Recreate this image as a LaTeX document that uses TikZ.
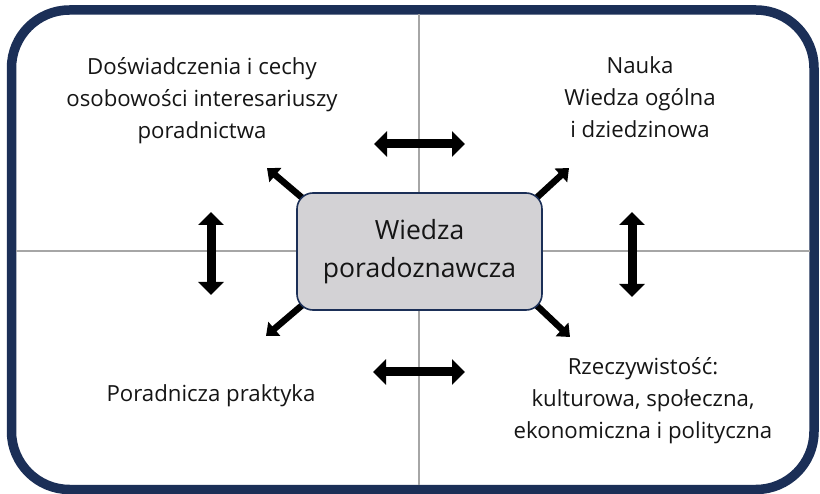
\documentclass[tikz,border=0pt]{standalone}
\usepackage{fontspec}
\setmainfont{Open Sans}
\usetikzlibrary{arrows.meta}
\definecolor{navy}{HTML}{1B2F57}
\definecolor{boxgray}{HTML}{D3D2D5}
\definecolor{gridgray}{HTML}{A6A6A6}
\definecolor{txt}{HTML}{151515}
\begin{document}
\begin{tikzpicture}[x=1pt,y=-1pt,
 frame/.style={draw=navy, line width=9.5pt, rounded corners=58pt},
 gridline/.style={draw=gridgray, line width=1.4pt},
 label/.style={align=center, text=txt, font=\fontsize{22.2}{32}\selectfont, inner sep=0pt},
 centerbox/.style={draw=navy, line width=1.6pt, fill=boxgray, rounded corners=16pt, minimum width=245pt, minimum height=117pt, align=center, font=\fontsize{26.5}{38}\selectfont, text=txt},
 dbl/.style={line width=9pt, {Triangle[length=13pt,width=25pt]}-{Triangle[length=13pt,width=25pt]}},
 ray/.style={line width=6.5pt, -{Triangle[length=11pt,width=18pt]}}
]
\useasboundingbox (0,0) rectangle (820,494);
\fill[white] (0,0) rectangle (820,494);
% frame and grid
\draw[frame] (11.5,10) rectangle (814,489.5);
\draw[gridline] (419,14.5) -- (419,485);
\draw[gridline] (16,251) -- (809.5,251);
% arrow end points
\coordinate (ha1) at (374,144); \coordinate (hb1) at (465,144);
\coordinate (ha2) at (373,372); \coordinate (hb2) at (465,372);
\coordinate (va1) at (211,212); \coordinate (vb1) at (211,295);
\coordinate (va2) at (632,212); \coordinate (vb2) at (632,297);
\coordinate (tl) at (267,168); \coordinate (tr) at (569,168);
\coordinate (bl) at (266,336); \coordinate (br) at (570,337);
% central box (rays start under it)
\path (419.5,251.5) coordinate (boxc);
\draw[ray] ([shift={(-113,-50)}]boxc) -- (tl);
\draw[ray] ([shift={(113,-50)}]boxc) -- (tr);
\draw[ray] ([shift={(-113,50)}]boxc) -- (bl);
\draw[ray] ([shift={(113,50)}]boxc) -- (br);
\node[centerbox] (box) at (boxc) {Wiedza\\poradoznawcza};
\draw[dbl] (ha1) -- (hb1);
\draw[dbl] (ha2) -- (hb2);
\draw[dbl] (va1) -- (vb1);
\draw[dbl] (va2) -- (vb2);
% labels
\node[label] (exp) at (202,100.5) {Doświadczenia i cechy\\osobowości interesariuszy\\poradnictwa};
\node[label] (sci) at (640,97.5) {Nauka\\Wiedza ogólna\\i dziedzinowa};
\node[label] (prac) at (211,396) {Poradnicza praktyka};
\node[label] (real) at (643,401) {Rzeczywistość:\\kulturowa, społeczna,\\ekonomiczna i polityczna};
\end{tikzpicture}
\end{document}
